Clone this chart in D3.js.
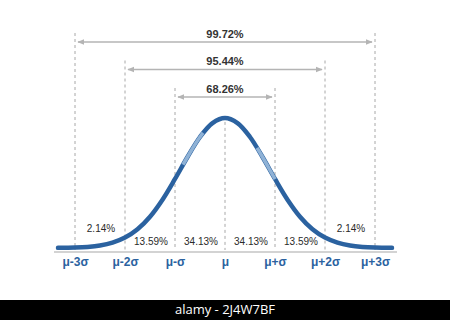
<!DOCTYPE html>
<html>
<head>
<meta charset="utf-8">
<script src="https://cdn.jsdelivr.net/npm/d3@7"></script>
<style>
  body { margin: 0; background: #fff; }
  svg { display: block; font-family: "Liberation Sans", Arial, sans-serif; }
</style>
</head>
<body>
<svg id="chart" width="450" height="320"></svg>
<script>
// sigma positions and their labels
var sigmaTicks = [-3, -2, -1, 0, 1, 2, 3];
var tickLabels = ["μ-3σ", "μ-2σ", "μ-σ", "μ", "μ+σ", "μ+2σ", "μ+3σ"];

// percentage in each band between two sigma lines
var bandMid = [-2.5, -1.5, -0.5, 0.5, 1.5, 2.5];
var bandPct = ["2.14%", "13.59%", "34.13%", "34.13%", "13.59%", "2.14%"];

// share inside ±k sigma
var spanK = [1, 2, 3];
var spanPct = ["68.26%", "95.44%", "99.72%"];

// bell curve (x in sigma, relative height)
var curveZ = [-3.34, -3, -2.75, -2.5, -2.25, -2, -1.75, -1.5, -1.25, -1, -0.75, -0.5, -0.25, 0,
              0.25, 0.5, 0.75, 1, 1.25, 1.5, 1.75, 2, 2.25, 2.5, 2.75, 3, 3.34];
var curveH = [0.001, 0.003, 0.008, 0.019, 0.041, 0.080, 0.144, 0.241, 0.372, 0.531, 0.700, 0.854, 0.961, 1,
              0.961, 0.854, 0.700, 0.531, 0.372, 0.241, 0.144, 0.080, 0.041, 0.019, 0.008, 0.003, 0.001];

// lighter glare pieces on the curve
var glare = [[-0.84, -0.44], [0.64, 1.0]];

var svg = d3.select("#chart");

svg.append("rect").attr("x", 0).attr("y", 0).attr("width", 450).attr("height", 320).attr("fill", "#fff");

var x = d3.scaleLinear().domain([-3, 3]).range([75, 375]),
    y = d3.scaleLinear().domain([0, 1]).range([248, 118]),
    arrowY = d3.scaleLinear().domain([1, 3]).range([97, 42]);

var grey = "#b4b4b4";

// dashed sigma lines
svg.selectAll(".vline")
    .data(sigmaTicks)
    .enter().append("line")
    .attr("class", "vline")
    .attr("x1", function(d) { return x(d); })
    .attr("x2", function(d) { return x(d); })
    .attr("y1", function(d) { return d == 0 ? y(0.97) : arrowY(Math.abs(d)) - 9; })
    .attr("y2", 250)
    .attr("stroke", "#a8a8a8")
    .attr("stroke-width", 1)
    .attr("stroke-dasharray", "3,3");

// arrow heads
var defs = svg.append("defs");
["start", "end"].forEach(function(n) {
    defs.append("marker")
        .attr("id", "arr-" + n)
        .attr("viewBox", "0 0 10 10")
        .attr("refX", n == "end" ? 9 : 1)
        .attr("refY", 5)
        .attr("markerWidth", 7)
        .attr("markerHeight", 7)
        .attr("markerUnits", "userSpaceOnUse")
        .attr("orient", "auto")
        .append("path")
        .attr("d", n == "end" ? "M0,1L10,5L0,9Z" : "M10,1L0,5L10,9Z")
        .attr("fill", grey);
});

svg.selectAll(".span")
    .data(spanK)
    .enter().append("line")
    .attr("class", "span")
    .attr("x1", function(d) { return x(-d) + 3; })
    .attr("x2", function(d) { return x(d) - 3; })
    .attr("y1", function(d) { return arrowY(d); })
    .attr("y2", function(d) { return arrowY(d); })
    .attr("stroke", grey)
    .attr("stroke-width", 1.5)
    .attr("marker-start", "url(#arr-start)")
    .attr("marker-end", "url(#arr-end)");

svg.selectAll(".spanlabel")
    .data(spanK)
    .enter().append("text")
    .attr("class", "spanlabel")
    .attr("x", x(0))
    .attr("y", function(d) { return arrowY(d) - 4.5; })
    .attr("text-anchor", "middle")
    .attr("font-size", "11px")
    .attr("font-weight", "bold")
    .attr("fill", "#333")
    .text(function(d, i) { return spanPct[i]; });

// axis line
svg.append("line")
    .attr("x1", x(-3.42)).attr("x2", x(3.44))
    .attr("y1", 252).attr("y2", 252)
    .attr("stroke", "#c4c4c4")
    .attr("stroke-width", 1.6);

// the bell curve
var pts = curveZ.map(function(z, i) { return {z: z, h: curveH[i]}; });
var line = d3.line()
    .curve(d3.curveCatmullRom)
    .x(function(d) { return x(d.z); })
    .y(function(d) { return y(d.h); });

var curvePath = svg.append("path")
    .datum(pts)
    .attr("d", line)
    .attr("fill", "none")
    .attr("stroke", "#2b62a0")
    .attr("stroke-width", 4.5)
    .attr("stroke-linecap", "round");

// glare pieces, taken along the same path
var node = curvePath.node(), total = node.getTotalLength();
function lengthAt(px) {
    var lo = 0, hi = total;
    for (var k = 0; k < 30; k++) {
        var mid = (lo + hi) / 2;
        if (node.getPointAtLength(mid).x < px) lo = mid; else hi = mid;
    }
    return lo;
}
glare.forEach(function(g) {
    var a = lengthAt(x(g[0])), b = lengthAt(x(g[1]));
    svg.append("path")
        .attr("d", curvePath.attr("d"))
        .attr("fill", "none")
        .attr("stroke", "#8fb2d6")
        .attr("stroke-width", 3.5)
        .attr("stroke-dasharray", "0," + a + "," + (b - a) + "," + total);
});

// band percentages
svg.selectAll(".band")
    .data(bandMid)
    .enter().append("text")
    .attr("class", "band")
    .attr("x", function(d) { return x(d) + 1; })
    .attr("y", function(d) { return Math.abs(d) > 2 ? 232 : 245; })
    .attr("text-anchor", "middle")
    .attr("font-size", "10px")
    .attr("fill", "#2a2a2a")
    .text(function(d, i) { return bandPct[i]; });

// sigma tick labels
var axis = d3.axisBottom(x)
    .tickValues(sigmaTicks)
    .tickSize(0)
    .tickPadding(0)
    .tickFormat(function(d, i) { return tickLabels[i]; });

var gx = svg.append("g")
    .attr("transform", "translate(0,257)")
    .call(axis);
gx.select(".domain").remove();
gx.selectAll("text")
    .attr("font-family", "'Liberation Sans', Arial, sans-serif")
    .attr("font-size", "12px")
    .attr("font-weight", "bold")
    .attr("fill", "#2b62a0")
    .attr("dy", "0.71em");

// bottom strip
svg.append("rect").attr("x", 0).attr("y", 300).attr("width", 450).attr("height", 20).attr("fill", "#000");
svg.append("text")
    .attr("x", 225).attr("y", 314)
    .attr("text-anchor", "middle")
    .attr("font-family", "'Open Sans', 'DejaVu Sans', sans-serif")
    .attr("font-size", "13px")
    .attr("fill", "#fff")
    .text("alamy - 2J4W7BF");
</script>
</body>
</html>
